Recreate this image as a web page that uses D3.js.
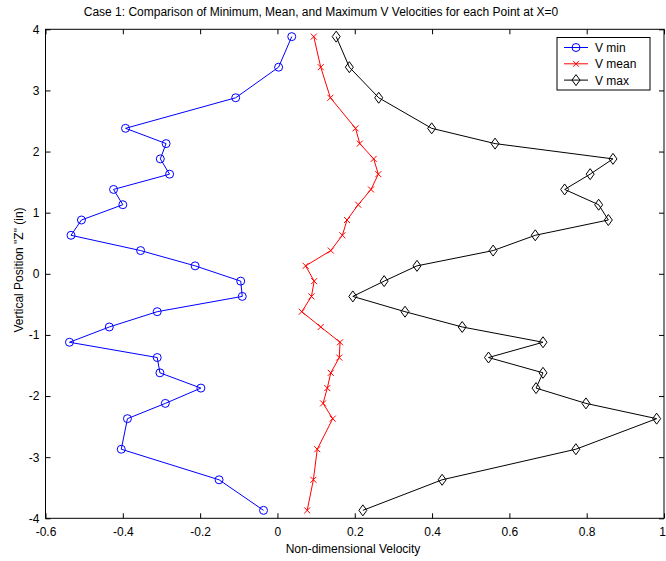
<!DOCTYPE html>
<html><head><meta charset="utf-8">
<script src="https://cdn.jsdelivr.net/npm/d3@7/dist/d3.min.js"></script>
<style>body{margin:0;background:#fff}svg{display:block}text{font-family:"Liberation Sans",Arial,sans-serif;fill:#000}</style>
</head><body><svg id="c" width="666" height="561"></svg>
<script>
const zPos = [3.88,3.38,2.88,2.38,2.13,1.88,1.63,1.38,1.13,0.88,0.63,0.38,0.13,-0.12,-0.37,-0.62,-0.87,-1.12,-1.37,-1.62,-1.87,-2.12,-2.37,-2.87,-3.37,-3.87];
const vMin = [0.037,0.003,-0.108,-0.393,-0.288,-0.303,-0.279,-0.424,-0.400,-0.507,-0.534,-0.354,-0.213,-0.095,-0.091,-0.311,-0.435,-0.538,-0.311,-0.304,-0.198,-0.290,-0.388,-0.404,-0.151,-0.036];
const vMean = [0.094,0.112,0.137,0.202,0.213,0.249,0.261,0.242,0.209,0.180,0.168,0.138,0.073,0.095,0.088,0.063,0.112,0.162,0.160,0.138,0.129,0.118,0.143,0.103,0.093,0.077];
const vMax = [0.152,0.186,0.262,0.399,0.563,0.868,0.809,0.743,0.831,0.856,0.667,0.558,0.361,0.276,0.195,0.330,0.478,0.687,0.546,0.687,0.669,0.798,0.981,0.772,0.426,0.221];
const xTicks = [-0.6,-0.4,-0.2,0,0.2,0.4,0.6,0.8,1];
const yTicks = [-4,-3,-2,-1,0,1,2,3,4];
const seriesNames = ["V min","V mean","V max"];
const seriesColors = ["#0000ff","#ff0000","#000000"];
const titleText = "Case 1: Comparison of Minimum, Mean, and Maximum V Velocities for each Point at X=0";
const xLabel = "Non-dimensional Velocity";
const yLabel = "Vertical Position \"Z\" (in)";

const svg = d3.select("#c");
const L=45.5, R=664, T=29.3, B=518.3;
const x = d3.scaleLinear().domain([-0.6,1]).range([L,R]);
const y = d3.scaleLinear().domain([-4,4]).range([B,T]);

svg.append("rect").attr("x",L).attr("y",T).attr("width",R-L).attr("height",B-T).attr("fill","#fff").attr("stroke","#000").attr("stroke-width",1);

const tl=5;
const gx = svg.append("g").attr("transform",`translate(0,${B})`).call(d3.axisBottom(x).tickValues(xTicks).tickSize(-tl).tickPadding(9).tickFormat(d=>String(d)));
const gxt = svg.append("g").attr("transform",`translate(0,${T})`).call(d3.axisTop(x).tickValues(xTicks).tickSize(-tl).tickFormat(""));
const gy = svg.append("g").attr("transform",`translate(${L},0)`).call(d3.axisLeft(y).tickValues(yTicks).tickSize(-tl).tickPadding(6).tickFormat(d=>String(d)));
const gyr = svg.append("g").attr("transform",`translate(${R},0)`).call(d3.axisRight(y).tickValues(yTicks).tickSize(-tl).tickFormat(""));
[gx,gxt,gy,gyr].forEach(g=>{g.select(".domain").remove();g.selectAll("line").attr("stroke","#000");g.selectAll("text").attr("font-family","Liberation Sans, Arial, sans-serif").attr("font-size",12).attr("fill","#000");});
gx.selectAll(".tick text").filter(d=>d===1).attr("dx",-2);

svg.append("text").attr("x",321).attr("y",16).attr("text-anchor","middle").attr("font-size",12).text(titleText);
svg.append("text").attr("x",353).attr("y",553).attr("text-anchor","middle").attr("font-size",12).text(xLabel);
svg.append("text").attr("transform",`translate(23,270) rotate(-90)`).attr("text-anchor","middle").attr("font-size",12).text(yLabel);

const series=[vMin,vMean,vMax];
const line=d3.line().x(d=>x(d[0])).y(d=>y(d[1]));
function marker(g,type,cx,cy,col){
  if(type===0) g.append("circle").attr("cx",cx).attr("cy",cy).attr("r",4).attr("fill","none").attr("stroke",col);
  else if(type===1){g.append("path").attr("d",`M${cx-3},${cy-3}L${cx+3},${cy+3}M${cx-3},${cy+3}L${cx+3},${cy-3}`).attr("stroke",col);}
  else g.append("path").attr("d",`M${cx},${cy-5.5}L${cx+4},${cy}L${cx},${cy+5.5}L${cx-4},${cy}Z`).attr("fill","none").attr("stroke",col);
}
series.forEach((s,i)=>{
  const pts=s.map((v,j)=>[v,zPos[j]]);
  const g=svg.append("g");
  g.append("path").attr("d",line(pts)).attr("fill","none").attr("stroke",seriesColors[i]).attr("stroke-width",1);
  pts.forEach(p=>marker(g,i,x(p[0]),y(p[1]),seriesColors[i]));
});

const lg=svg.append("g");
lg.append("rect").attr("x",557).attr("y",37.5).attr("width",93).attr("height",52.5).attr("fill","#fff").attr("stroke","#000");
seriesNames.forEach((n,i)=>{
  const yy=47.5+i*16.3;
  lg.append("line").attr("x1",564).attr("x2",588).attr("y1",yy).attr("y2",yy).attr("stroke",seriesColors[i]);
  marker(lg,i,576,yy,seriesColors[i]);
  lg.append("text").attr("x",595).attr("y",yy+4.5).attr("font-size",12).text(n);
});
</script></body></html>
